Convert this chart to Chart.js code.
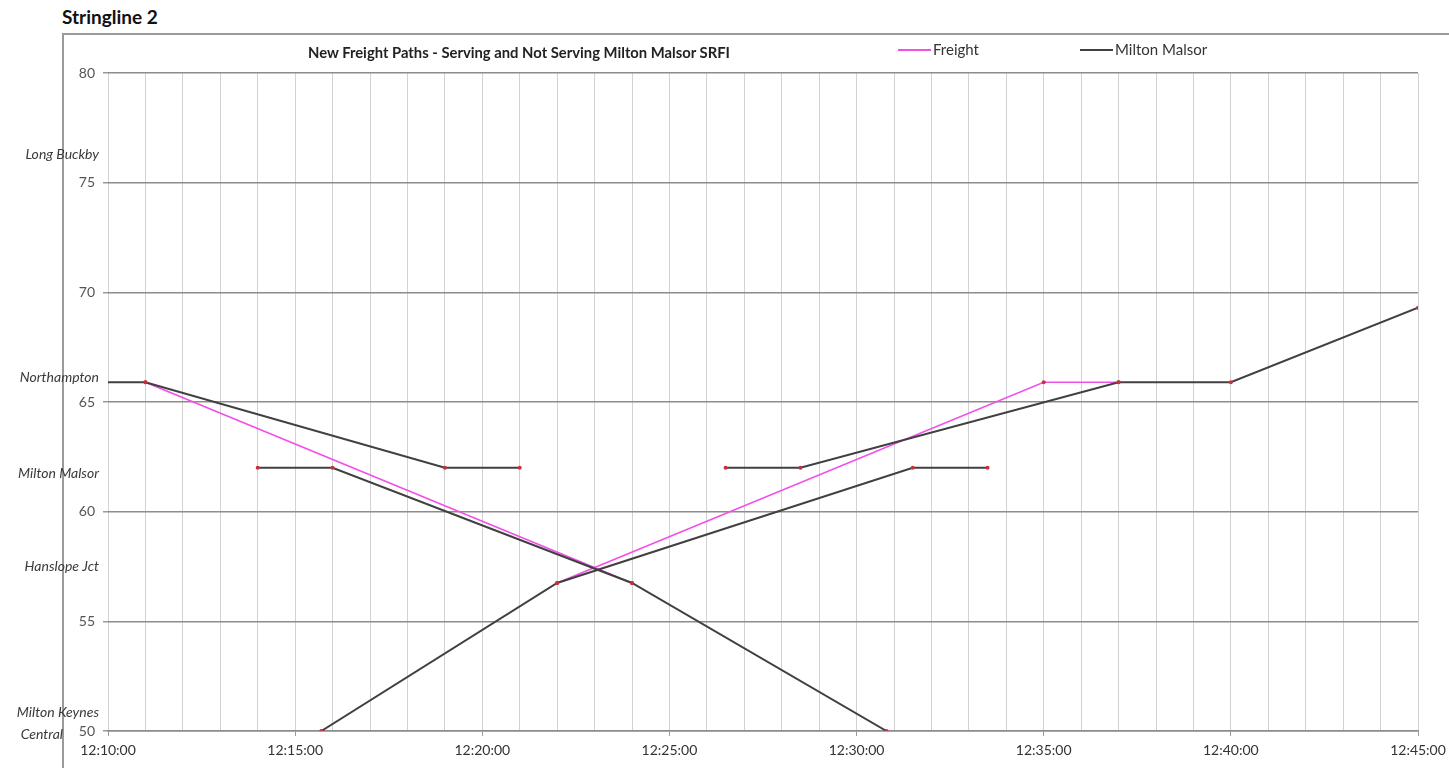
<!DOCTYPE html>
<html>
<head>
<meta charset="utf-8">
<script src="https://cdn.jsdelivr.net/npm/chart.js@4.4.1/dist/chart.umd.min.js"></script>
<style>
  body { margin: 0; background: #fff; font-family: Lato, "Open Sans", sans-serif; }
  #page { position: relative; width: 1449px; height: 768px; overflow: hidden; }
  #heading { position: absolute; left: 62px; top: 5px; font-weight: bold; font-size: 19px; color: #111; }
  #frame { position: absolute; left: 62px; top: 33px; width: 1420px; height: 800px; border: 2px solid #9a9a9a; }
  #grafico { position: absolute; left: 0; top: 0; }
  #titulo { position: absolute; left: 308px; top: 43px; font-weight: bold; font-size: 14.8px; color: #222; }
  .leg { position: absolute; top: 40px; font-size: 15px; color: #333; }
  .leg span.linha { display: inline-block; width: 33px; height: 2px; vertical-align: middle; margin-right: 2px; position: relative; top: -1px; }
</style>
</head>
<body>
<div id="page">
  <div id="heading">Stringline 2</div>
  <div id="frame"></div>
  <canvas id="grafico" width="1449" height="768"></canvas>
  <div id="titulo">New Freight Paths - Serving and Not Serving Milton Malsor SRFI</div>
  <div class="leg" style="left:898px"><span class="linha" style="background:#f050e8"></span>Freight</div>
  <div class="leg" style="left:1080px"><span class="linha" style="background:#404040"></span>Milton Malsor</div>
</div>
<script>
// ==========================
// DADOS (minutos depois das 12:00 / posicao)
// ==========================
const freightDownTimes = [11, 24];
const freightDownPos = [65.9, 56.75];
const freightUpTimes = [22, 35, 37];
const freightUpPos = [56.75, 65.9, 65.9];

const mmDown1Times = [10, 11, 19, 21];
const mmDown1Pos = [65.9, 65.9, 62, 62];
const mmDown2Times = [14, 16, 24, 30.8];
const mmDown2Pos = [62, 62, 56.75, 50];
const mmUp1Times = [15.7, 22, 31.5, 33.5];
const mmUp1Pos = [50, 56.75, 62, 62];
const mmUp2Times = [26.5, 28.5, 37, 40, 45];
const mmUp2Pos = [62, 62, 65.9, 65.9, 69.3];

const stationNames = ["Long Buckby", "Northampton", "Milton Malsor", "Hanslope Jct", "Milton Keynes\nCentral"];
const stationPos = [76.3, 66.1, 61.75, 57.5, 50.35];

const X_MIN = 10, X_MAX = 45;
const Y_MIN = 50, Y_MAX = 80;

function pts(ts, ys) {
  return ts.map((t, i) => ({ x: t, y: ys[i] }));
}

function serie(ts, ys, cor, largura, ordem) {
  return {
    data: pts(ts, ys),
    borderColor: cor,
    borderWidth: largura,
    pointRadius: (c) => (c.parsed && c.parsed.x === X_MIN ? 0 : 2),
    pointBorderWidth: 0,
    pointBackgroundColor: "#c8303c",
    fill: false,
    tension: 0,
    order: ordem,
  };
}

// ==========================
// ESTACOES (texto no eixo)
// ==========================
const estacoes = {
  id: "estacoes",
  afterDraw(chart) {
    const ctx = chart.ctx;
    const y = chart.scales.y;
    ctx.save();
    ctx.font = "italic 14px Lato";
    ctx.fillStyle = "#3a3a3a";
    ctx.textBaseline = "middle";
    stationNames.forEach((nome, i) => {
      const linhas = nome.split("\n");
      const py = y.getPixelForValue(stationPos[i]);
      const topo = py - (linhas.length - 1) * 11;
      linhas.forEach((l, j) => {
        ctx.textAlign = "right";
        ctx.fillText(l, j === 0 ? 99 : 63, topo + j * 22);
      });
    });
    ctx.restore();
  },
};

function pad(n) {
  return n < 10 ? "0" + n : "" + n;
}

// ==========================
// GRAFICO
// ==========================
const ctx = document.getElementById("grafico").getContext("2d");
const chart = new Chart(ctx, {
  type: "line",
  data: {
    datasets: [
      serie(mmDown1Times, mmDown1Pos, "#404040", 2, 1),
      serie(mmDown2Times, mmDown2Pos, "#404040", 2, 1),
      serie(mmUp1Times, mmUp1Pos, "#404040", 2, 1),
      serie(mmUp2Times, mmUp2Pos, "#404040", 2, 1),
      serie(freightDownTimes, freightDownPos, "#f050e8", 1.7, 2),
      serie(freightUpTimes, freightUpPos, "#f050e8", 1.7, 2),
    ],
  },
  options: {
    responsive: false,
    animation: false,
    layout: { padding: { left: 62, top: 73, right: 31, bottom: 0 } },
    plugins: { legend: { display: false }, title: { display: false }, tooltip: { enabled: false } },
    scales: {
      x: {
        type: "linear",
        min: X_MIN,
        max: X_MAX,
        afterFit: (s) => {
          s.height = 37;
          s.paddingLeft = 0;
          s.paddingRight = 0;
        },
        grid: {
          color: "#d2d2d2",
          lineWidth: 1,
          tickLength: 5,
          tickColor: (c) => (c.tick && c.tick.value % 5 === 0 ? "#999" : "rgba(0,0,0,0)"),
        },
        border: { color: "#8c8c8c", width: 1.5 },
        ticks: {
          stepSize: 1,
          autoSkip: false,
          maxRotation: 0,
          padding: 6,
          color: "#333",
          font: { family: "Lato", size: 14 },
          callback: (v) => (v % 5 === 0 ? "12:" + pad(v) + ":00" : ""),
        },
      },
      y: {
        min: Y_MIN,
        max: Y_MAX,
        afterFit: (s) => { s.width = 46; },
        grid: { color: "#8c8c8c", lineWidth: 1.5, tickLength: 5, tickColor: "#999" },
        border: { display: false },
        ticks: {
          stepSize: 5,
          padding: 8,
          color: "#555",
          font: { family: "Lato", size: 14 },
        },
      },
    },
  },
  plugins: [estacoes],
});
</script>
</body>
</html>
